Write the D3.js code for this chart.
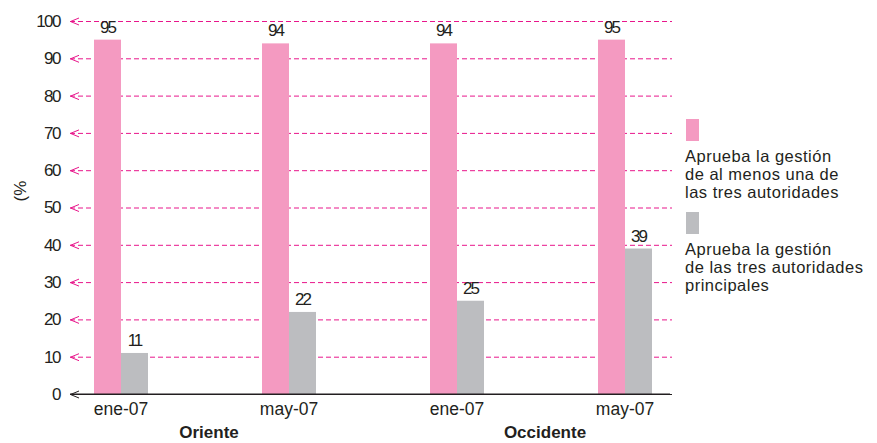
<!DOCTYPE html>
<html>
<head>
<meta charset="utf-8">
<script src="https://cdn.jsdelivr.net/npm/d3@7"></script>
<style>
  body { margin: 0; background: #fff; }
  text { font-family: "Liberation Sans", Arial, sans-serif; fill: #231f20; }
</style>
</head>
<body>
<div id="chart"></div>
<script>
// Data
const groups      = ["Oriente", "Oriente", "Occidente", "Occidente"];
const periods     = ["ene-07", "may-07", "ene-07", "may-07"];
const atLeastOne  = [95, 94, 94, 95];
const allThree    = [11, 22, 25, 39];
const regions     = ["Oriente", "Occidente"];
const yTicks      = [0, 10, 20, 30, 40, 50, 60, 70, 80, 90, 100];
const legendItems = [
  { color: "#f49ac1", lines: ["Aprueba la gestión", "de al menos una de", "las tres autoridades"] },
  { color: "#bcbdc0", lines: ["Aprueba la gestión", "de las tres autoridades", "principales"] }
];

const config = {
  width  : 877,
  height : 443,
  left   : 70,
  right  : 672,
  top    : 21,
  bottom : 394,
  barW   : 27,
  pink   : "#f49ac1",
  grey   : "#bcbdc0",
  grid   : "#e8168b"
};

const svg = d3.select("#chart")
  .append("svg")
    .attr("width", config.width)
    .attr("height", config.height);

const keys = periods.map((p, i) => i);

const x = d3.scaleBand()
  .domain(keys)
  .range([37, 709]);

const y = d3.scaleLinear()
  .domain([0, 100])
  .range([config.bottom, config.top]);

// Grid lines + tick labels
const yAxis = svg.append("g")
  .attr("transform", "translate(" + config.left + ",0)")
  .call(d3.axisLeft(y).tickValues(yTicks).tickSize(-(config.right - config.left)).tickPadding(10));

yAxis.select(".domain").remove();
yAxis.selectAll(".tick line")
  .attr("stroke", d => d === 0 ? "#231f20" : config.grid)
  .attr("stroke-width", d => d === 0 ? 1.2 : 1)
  .attr("stroke-dasharray", d => d === 0 ? null : "5,3");
yAxis.selectAll(".tick text")
  .style("font-size", "17px")
  .style("letter-spacing", "-1.5px")
  .attr("fill", "#231f20");

// small chevrons at the start of each line
yAxis.selectAll(".tick")
  .append("path")
    .attr("d", "M9,-3.5L0.5,0L9,3.5")
    .attr("fill", "none")
    .attr("stroke", d => d === 0 ? "#231f20" : config.grid)
    .attr("stroke-width", 1);

// Bars
const bars = svg.append("g");
bars.selectAll(".pink")
  .data(keys)
  .enter()
  .append("rect")
    .attr("x", d => x(d) + x.bandwidth() / 2 - config.barW)
    .attr("y", d => y(atLeastOne[d]))
    .attr("width", config.barW)
    .attr("height", d => y(0) - y(atLeastOne[d]))
    .attr("fill", config.pink);

bars.selectAll(".grey")
  .data(keys)
  .enter()
  .append("rect")
    .attr("x", d => x(d) + x.bandwidth() / 2)
    .attr("y", d => y(allThree[d]))
    .attr("width", config.barW)
    .attr("height", d => y(0) - y(allThree[d]))
    .attr("fill", config.grey);

// redraw baseline on top of bars
svg.append("line")
  .attr("x1", config.left).attr("x2", config.right - 2)
  .attr("y1", y(0)).attr("y2", y(0))
  .attr("stroke", "#231f20")
  .attr("stroke-width", 1.2);

// Value labels
bars.selectAll(".lblPink")
  .data(keys)
  .enter()
  .append("text")
    .attr("x", d => x(d) + x.bandwidth() / 2 - config.barW / 2)
    .attr("y", d => y(atLeastOne[d]) - 7)
    .attr("text-anchor", "middle")
    .style("font-size", "17px")
    .style("letter-spacing", "-2px")
    .text(d => atLeastOne[d]);

bars.selectAll(".lblGrey")
  .data(keys)
  .enter()
  .append("text")
    .attr("x", d => x(d) + x.bandwidth() / 2 + config.barW / 2)
    .attr("y", d => y(allThree[d]) - 7)
    .attr("text-anchor", "middle")
    .style("font-size", "17px")
    .style("letter-spacing", "-2px")
    .text(d => allThree[d]);

// X axis labels
const xAxis = svg.append("g")
  .attr("transform", "translate(0," + config.bottom + ")")
  .call(d3.axisBottom(x).tickSize(0).tickPadding(9).tickFormat(d => periods[d]));
xAxis.select(".domain").remove();
xAxis.selectAll(".tick text")
  .style("font-size", "17.5px")
  .attr("fill", "#231f20");

// Region labels
svg.selectAll(".region")
  .data(regions)
  .enter()
  .append("text")
    .attr("x", r => {
      const idx = keys.filter(k => groups[k] === r);
      return d3.mean(idx, k => x(k) + x.bandwidth() / 2) + 4;
    })
    .attr("y", 438)
    .attr("text-anchor", "middle")
    .style("font-size", "17px")
    .style("font-weight", "bold")
    .text(r => r);

// Y axis title
svg.append("text")
  .attr("transform", "translate(26,191) rotate(-90)")
  .attr("text-anchor", "middle")
  .style("font-size", "17px")
  .text("(%");

// Legend
const legend = svg.append("g").attr("transform", "translate(686,119)");
legendItems.forEach((item, i) => {
  const g = legend.append("g").attr("transform", "translate(0," + (i * 93) + ")");
  g.append("rect")
    .attr("width", 13)
    .attr("height", 22)
    .attr("fill", item.color);
  g.selectAll("text")
    .data(item.lines)
    .enter()
    .append("text")
      .attr("x", -1)
      .attr("y", (d, j) => 43 + j * 18)
      .style("font-size", "16.5px")
      .style("letter-spacing", "0.5px")
      .attr("fill", "#333")
      .text(d => d);
});
</script>
</body>
</html>
